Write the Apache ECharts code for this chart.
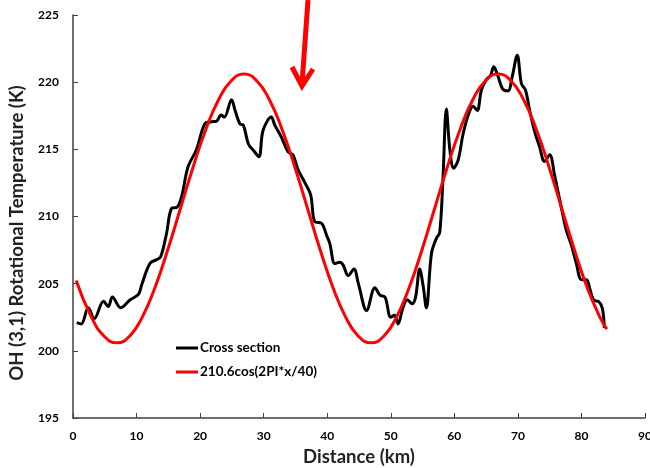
<!DOCTYPE html>
<html>
<head>
<meta charset="utf-8">
<script src="https://cdn.jsdelivr.net/npm/echarts@6/dist/echarts.min.js"></script>
<style>
html,body{margin:0;padding:0;background:#fff;}
#c{width:650px;height:468px;}
</style>
</head>
<body>
<div id="c"></div>
<script>
// Cross section (black)
const crossX = [0.6, 1.3, 2.4, 3.35, 4.8, 5.55, 6.2, 7.5, 9.0, 10.3, 10.8, 12.1, 13.2, 13.8, 14.7, 15.5, 16.4, 17.1, 18.1, 19.4, 20.75, 21.8, 22.6, 23.3, 23.8, 24.95, 25.5, 26.25, 26.8, 27.6, 28.35, 29.25, 29.9, 31.2, 31.75, 32.8, 33.85, 34.6, 35.4, 36.5, 37.4, 38.05, 39.1, 39.9, 40.4, 41.2, 42.0, 42.5, 43.3, 44.2, 44.9, 46.2, 47.5, 48.3, 49.1, 50.0, 50.6, 51.15, 51.9, 52.6, 53.35, 53.9, 54.55, 55.1, 55.6, 56.4, 57.2, 57.7, 58.2, 58.75, 59.3, 59.9, 60.6, 61.4, 62.3, 62.95, 63.6, 64.25, 65.05, 65.7, 66.2, 66.9, 67.6, 68.45, 69.1, 69.9, 70.55, 71.2, 71.85, 72.6, 73.4, 74.2, 75.0, 75.8, 76.6, 77.6, 78.4, 79.2, 80.0, 80.8, 81.3, 81.9, 82.75, 83.3, 83.6];
const crossY = [202.1, 202.0, 203.2, 202.4, 203.7, 203.3, 204.0, 203.2, 203.8, 204.2, 204.9, 206.5, 206.8, 207.0, 208.7, 210.6, 210.7, 211.5, 213.7, 214.95, 216.9, 217.05, 217.1, 217.55, 217.4, 218.7, 217.9, 216.9, 216.8, 215.4, 214.95, 214.45, 216.4, 217.4, 216.8, 215.9, 214.8, 214.6, 213.5, 212.5, 211.6, 209.6, 209.5, 208.6, 208.0, 206.5, 206.6, 206.4, 205.6, 206.1, 205.0, 203.0, 204.7, 204.15, 204.0, 202.5, 202.65, 202.0, 203.2, 203.8, 203.5, 204.0, 206.1, 204.8, 203.2, 207.25, 208.4, 208.8, 212.7, 218.0, 214.95, 213.6, 214.2, 216.2, 217.7, 218.2, 217.9, 219.4, 220.2, 220.5, 221.15, 220.4, 219.5, 219.35, 220.4, 222.0, 219.9, 219.4, 217.9, 216.4, 215.2, 214.1, 214.6, 213.0, 211.2, 209.0, 207.9, 206.5, 205.3, 205.3, 204.65, 203.8, 203.65, 203.15, 201.7];

// Fit curve (red)
const fitX = [0.5, 2.9, 4.9, 6.9, 8.9, 10.9, 12.9, 14.9, 16.9, 18.9, 20.9, 22.9, 24.9, 26.9, 28.9, 30.9, 32.9, 34.9, 36.9, 38.9, 40.9, 42.9, 44.9, 46.9, 48.9, 50.9, 52.9, 54.9, 56.9, 58.9, 60.9, 62.9, 64.9, 66.9, 68.9, 70.9, 72.9, 74.9, 76.9, 78.9, 80.9, 82.9, 84.0];
const fitY = [205.24, 202.51, 201.09, 200.6, 201.09, 202.51, 204.72, 207.51, 210.6, 213.69, 216.48, 218.69, 220.11, 220.6, 220.11, 218.69, 216.48, 213.69, 210.6, 207.51, 204.72, 202.51, 201.09, 200.6, 201.09, 202.51, 204.72, 207.51, 210.6, 213.69, 216.48, 218.69, 220.11, 220.6, 220.11, 218.69, 216.48, 213.69, 210.6, 207.51, 204.72, 202.51, 201.62];

const seriesNames = ['Cross section', '210.6cos(2PI*x/40)'];
const xTicks = {min: 0, max: 90, interval: 10};
const yTicks = {min: 195, max: 225, interval: 5};
const yTitle = 'OH (3,1) Rotational Temperature (K)';
const xTitle = 'Distance (km)';

const FONT = 'Lato, "Open Sans", sans-serif';
const chart = echarts.init(document.getElementById('c'), null, {renderer: 'canvas'});
const zip = (a, b) => a.map((v, i) => [v, b[i]]);

chart.setOption({
  animation: false,
  backgroundColor: '#fff',
  textStyle: {fontFamily: FONT},
  grid: {left: 73, right: 5, top: 15, bottom: 50, containLabel: false, outerBoundsMode: 'none'},
  legend: {
    orient: 'vertical',
    left: 171,
    top: 336,
    icon: 'rect',
    itemWidth: 22,
    itemHeight: 3,
    itemGap: 10,
    textStyle: {fontFamily: FONT, fontWeight: 'bold', fontSize: 13.5, color: '#000', padding: [0, 0, 0, -3]},
    data: seriesNames
  },
  xAxis: {
    type: 'value',
    min: xTicks.min, max: xTicks.max, interval: xTicks.interval,
    name: xTitle,
    nameLocation: 'middle',
    nameGap: 30,
    nameTextStyle: {fontFamily: FONT, fontWeight: 'bold', fontSize: 18.5, color: '#222'},
    axisLine: {lineStyle: {color: '#404040', width: 1.5}},
    axisTick: {inside: true, length: 5, lineStyle: {color: '#404040'}},
    axisLabel: {fontFamily: FONT, fontWeight: 'bold', fontSize: 12, color: '#000', margin: 12},
    splitLine: {show: false}
  },
  yAxis: {
    type: 'value',
    min: yTicks.min, max: yTicks.max, interval: yTicks.interval,
    axisLine: {show: true, lineStyle: {color: '#404040', width: 1.5}},
    axisTick: {show: true, inside: true, length: 5, lineStyle: {color: '#404040'}},
    axisLabel: {fontFamily: FONT, fontWeight: 'bold', fontSize: 12, color: '#000', margin: 14},
    splitLine: {show: false}
  },
  series: [
    {
      name: seriesNames[0],
      type: 'line',
      data: zip(crossX, crossY),
      showSymbol: false,
      smooth: 0.35,
      lineStyle: {color: '#000', width: 3},
      itemStyle: {color: '#000'},
      z: 2
    },
    {
      name: seriesNames[1],
      type: 'line',
      data: zip(fitX, fitY),
      showSymbol: false,
      smooth: 0.5,
      lineStyle: {color: '#ff0000', width: 3},
      itemStyle: {color: '#ff0000'},
      z: 3
    }
  ],
  graphic: [
    {
      type: 'text',
      x: 17,
      y: 233,
      rotation: Math.PI / 2,
      style: {
        text: yTitle,
        fontFamily: FONT,
        fontWeight: 'bold',
        fontSize: 18.5,
        fill: '#222',
        align: 'center',
        verticalAlign: 'middle'
      }
    },
    {
      type: 'polyline',
      shape: {points: [[308, 0], [302, 84]]},
      style: {stroke: '#ff0000', lineWidth: 5, fill: null}
    },
    {
      type: 'polyline',
      shape: {points: [[292, 67], [302, 86], [313, 69]]},
      style: {stroke: '#ff0000', lineWidth: 5, fill: null, lineJoin: 'miter'}
    }
  ]
});
</script>
</body>
</html>
